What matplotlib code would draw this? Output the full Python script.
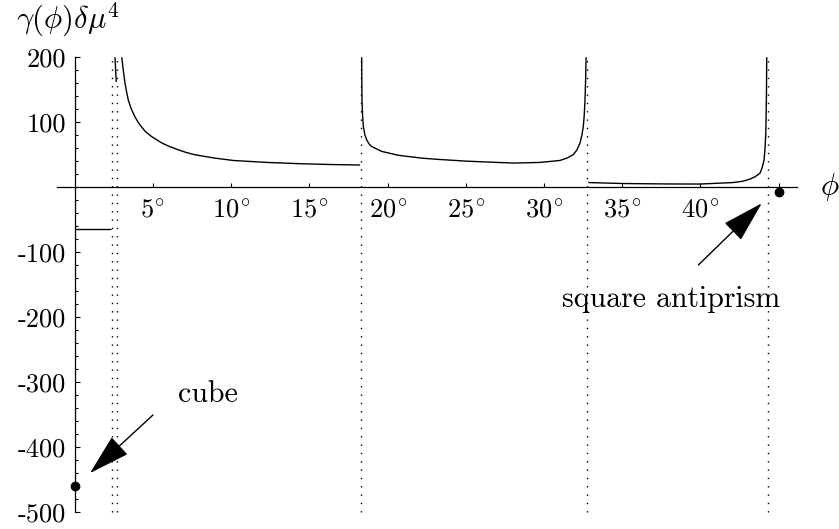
import matplotlib
matplotlib.use("Agg")
import matplotlib.pyplot as plt
from matplotlib.ticker import FixedLocator

plt.rcParams["mathtext.fontset"] = "cm"
plt.rcParams["font.family"] = ["cmr10", "DejaVu Serif"]
plt.rcParams["axes.unicode_minus"] = False

# --- branches of gamma(phi) * delta mu^4, phi in degrees ---
branch_a_phi = [0.0, 2.31]
branch_a_val = [-64.5, -64.5]

branch_b_phi = [2.57, 2.61, 2.65]
branch_b_val = [200, 180, 162]

branch_c_phi = [3.00, 3.10, 3.21, 3.30, 3.42, 3.60, 3.85, 4.10, 4.49, 4.90, 5.56, 6.00, 6.62,
                7.10, 7.69, 8.96, 10.13, 12.27, 14.40, 16.3, 18.24]
branch_c_val = [200, 180, 160, 148, 134, 121, 108, 98, 86, 78, 68, 63, 57.4,
                53.5, 49.7, 44.6, 41.0, 38.0, 36.0, 34.8, 34.0]

branch_d_phi = [18.34, 18.35, 18.36, 18.40, 18.45, 18.55, 18.66, 18.80, 18.98, 19.62, 20.68,
                22.18, 23.03, 25.0, 27.0, 28.1, 29.74, 31.02, 31.50, 31.87, 32.10, 32.30,
                32.42, 32.51, 32.57, 32.62, 32.66, 32.69]
branch_d_val = [200, 160, 134, 110, 93, 80, 73, 67, 62.5, 55, 49,
                44.6, 43, 40, 38, 37, 38, 41, 45, 50, 57, 67.7,
                80, 93, 110, 134, 165, 200]

branch_e_phi = [32.83, 35.0, 38.0, 39.98, 42.10, 42.70, 43.17, 43.50, 43.81, 43.95, 44.07,
                44.13, 44.18, 44.22, 44.24]
branch_e_val = [7.0, 5.5, 4.8, 4.7, 7.0, 9.0, 12.3, 16, 21.5, 30, 42,
                60, 83, 140, 200]

branches = [
    (branch_a_phi, branch_a_val),
    (branch_b_phi, branch_b_val),
    (branch_c_phi, branch_c_val),
    (branch_d_phi, branch_d_val),
    (branch_e_phi, branch_e_val),
]

# poles of gamma
pole_phi = [2.36, 2.72, 18.30, 32.77, 44.34]

# special configurations
cube_phi, cube_val = 0.0, -460
antiprism_phi, antiprism_val = 45.0, -7

x_ticks = [5, 10, 15, 20, 25, 30, 35, 40, 45]
x_tick_labels = [r"$5^{\!\circ}$", r"$10^{\!\circ}$", r"$15^{\!\circ}$", r"$20^{\!\circ}$",
                 r"$25^{\!\circ}$", r"$30^{\!\circ}$", r"$35^{\!\circ}$", r"$40^{\!\circ}$", ""]
y_ticks = [-500, -400, -300, -200, -100, 100, 200]
y_tick_labels = ["-500", "-400", "-300", "-200", "-100", "100", "200"]
y_minor = [v for v in range(-500, 201, 20) if v % 100 != 0] + [0]

fig = plt.figure(figsize=(8.39, 5.29), dpi=100)
ax = fig.add_axes([0, 0, 1, 1])
ax.set_xlim(-4.783, 48.86)
ax.set_ylim(-526.7, 288.2)
ax.patch.set_alpha(0)

for sp in ("top", "right"):
    ax.spines[sp].set_visible(False)
ax.spines["left"].set_position(("data", 0))
ax.spines["bottom"].set_position(("data", 0))
ax.spines["left"].set_bounds(-500, 200)
ax.spines["bottom"].set_bounds(-1.15, 46.2)
for sp in ("left", "bottom"):
    ax.spines[sp].set_linewidth(0.9)

ax.set_xticks(x_ticks, x_tick_labels)
ax.set_yticks(y_ticks, y_tick_labels)
ax.yaxis.set_minor_locator(FixedLocator(y_minor))
ax.tick_params(axis="x", direction="in", length=3.0, width=0.8, pad=8, labelsize=19)
ax.tick_params(axis="y", which="major", direction="in", length=3.8, width=0.8, pad=6.5, labelsize=19)
ax.tick_params(axis="y", which="minor", direction="in", length=1.9, width=0.8)

for phi, val in branches:
    ax.plot(phi, val, color="black", lw=1.0, solid_capstyle="butt", solid_joinstyle="round")

ax.vlines(pole_phi, -500, 200, colors="black", linestyles=(0, (1, 5)), lw=1.0)

ax.plot([cube_phi, antiprism_phi], [cube_val, antiprism_val], "o", color="black", ms=6)

arrow = dict(arrowstyle="-|>,head_length=2.66,head_width=0.76", color="black",
             lw=1.0, shrinkA=0, shrinkB=0)
ax.annotate("", xy=(0.97, -440.6), xytext=(5.0, -351), arrowprops=arrow)
ax.text(8.5, -330.5, "cube", ha="center", va="baseline", fontsize=21.5)
ax.annotate("", xy=(43.92, -25), xytext=(39.87, -120), arrowprops=arrow)
ax.text(38.15, -184.3, "square antiprism", ha="center", va="baseline", fontsize=21.5)

ax.text(-0.43, 245, r"$\gamma(\phi)\delta\mu^4$", ha="center", va="baseline", fontsize=22)
ax.text(48.3, 0, r"$\phi$", ha="center", va="center", fontsize=22)

fig.savefig("out.png", dpi=100)
